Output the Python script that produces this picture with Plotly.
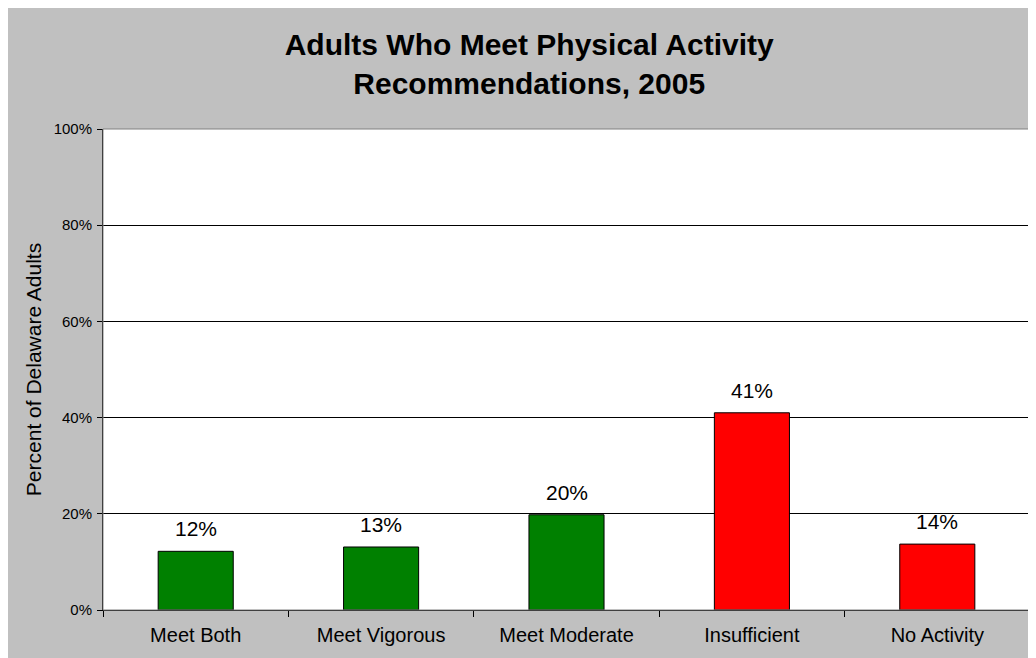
import plotly.graph_objects as go

categories = ["Meet Both", "Meet Vigorous", "Meet Moderate", "Insufficient", "No Activity"]
values = [12.2, 13.1, 19.8, 41.0, 13.7]
labels = ["12%", "13%", "20%", "41%", "14%"]
colors = ["#008000", "#008000", "#008000", "#FF0000", "#FF0000"]
y_ticks = [0, 20, 40, 60, 80, 100]
y_tick_labels = ["0%", "20%", "40%", "60%", "80%", "100%"]

W, H = 1028, 650
L, R, T, B = 95, 6, 121, 48

fig = go.Figure()
fig.add_trace(go.Bar(
    x=categories, y=values,
    marker=dict(color=colors, line=dict(color="black", width=1)),
    width=0.405,
    hoverinfo="skip",
))

for c, v, t in zip(categories, values, labels):
    fig.add_annotation(x=c, y=v, text=t, showarrow=False, yanchor="bottom",
                       yshift=9, font=dict(family="Liberation Sans, Arial", size=21, color="black"))

fig.update_layout(
    width=W, height=H,
    margin=dict(l=L, r=R, t=T, b=B, pad=0),
    paper_bgcolor="#C0C0C0",
    plot_bgcolor="white",
    showlegend=False,
    title=dict(
        text="<b>Adults Who Meet Physical Activity<br>Recommendations, 2005</b>",
        x=0.507, xanchor="center", y=1 - 47 / H, yanchor="middle",
        font=dict(family="Liberation Sans, Arial", size=30, color="black"),
    ),
    font=dict(family="Liberation Sans, Arial", color="black"),
    shapes=[
        dict(type="rect", xref="paper", yref="paper", layer="above",
             x0=0, x1=1, y0=0, y1=1,
             fillcolor="rgba(0,0,0,0)", line=dict(color="#808080", width=1)),
    ],
    xaxis=dict(
        tickson="boundaries", ticks="outside", ticklen=6, tickcolor="black",
        showline=True, linecolor="black", linewidth=1,
        tickfont=dict(size=20), showgrid=False, ticklabelstandoff=7,
    ),
    yaxis=dict(
        range=[0, 100], tickvals=y_ticks, ticktext=y_tick_labels,
        ticks="outside", ticklen=5, tickcolor="black",
        showline=True, linecolor="black", linewidth=1,
        showgrid=True, gridcolor="black", gridwidth=1,
        tickfont=dict(size=15), zeroline=False, ticklabelstandoff=2,
        title=dict(text="Percent of Delaware Adults", font=dict(size=21), standoff=6),
    ),
    bargap=0.6,
)

fig.write_html("out.html")
